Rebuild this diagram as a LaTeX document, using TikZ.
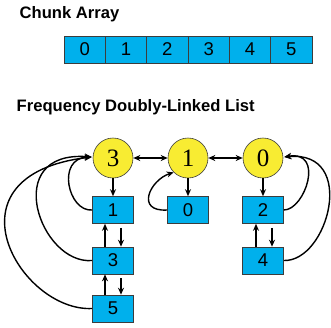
\documentclass[tikz,border=0pt]{standalone}
\usepackage{fontspec}
\setmainfont{Liberation Sans}
\newfontfamily\serifdigits{Liberation Serif}
\usetikzlibrary{arrows.meta}
\definecolor{circfill}{RGB}{248,236,50}
\definecolor{boxfill}{RGB}{0,176,236}
\definecolor{edgegray}{RGB}{60,60,60}
\tikzset{
  cell/.style={draw=edgegray,line width=0.6pt,fill=boxfill,minimum width=41.33pt,minimum height=27pt,inner sep=0pt,font=\fontsize{18.5}{18.5}\selectfont},
  listbox/.style={draw=edgegray,line width=0.6pt,fill=boxfill,minimum width=41pt,minimum height=27pt,inner sep=0pt,font=\fontsize{18.5}{18.5}\selectfont},
  freq/.style={circle,draw=edgegray,line width=0.6pt,fill=circfill,minimum size=40pt,inner sep=0pt,font=\serifdigits\fontsize{25}{25}\selectfont},
  title/.style={anchor=base west,inner sep=0pt,font=\bfseries\fontsize{16.6}{16.6}\selectfont},
  link/.style={line width=1.4pt,-{Stealth[length=7pt,width=6pt]}},
  dlink/.style={line width=1.4pt,{Stealth[length=7pt,width=6pt]}-{Stealth[length=7pt,width=6pt]}}
}
\begin{document}
\begin{tikzpicture}[x=1pt,y=-1pt]
\useasboundingbox (0,0) rectangle (331,327);
\node[title] (t1) at (19.5,18.3) {Chunk Array};
\node[title] (t2) at (16.5,111.5) {Frequency Doubly-Linked List};
\foreach \i in {0,...,5}{
  \node[cell] (a\i) at ({64+41.33*(\i+0.5)},49.5) {\i};
}
\node[freq] (c3) at (113,158) {3};
\node[freq] (c1) at (188,158) {1};
\node[freq] (c0) at (263,158) {0};
\node[listbox] (b1) at (113,210) {1};
\node[listbox] (b3) at (113,260.5) {3};
\node[listbox] (b5) at (113,308.5) {5};
\node[listbox] (b0) at (188,210) {0};
\node[listbox] (b2) at (263,210) {2};
\node[listbox] (b4) at (263,260.5) {4};
% circle links
\draw[dlink] (c3) -- (c1);
\draw[dlink] (c1) -- (c0);
\draw[link] (c3) -- (b1);
\draw[link] (c1) -- (b0);
\draw[link] (c0) -- (b2);
% vertical links between boxes
\draw[link] ([xshift=8pt,yshift=-4pt]b1.south) -- ([xshift=8pt]b3.north);
\draw[link] ([xshift=-8pt]b3.north) -- ([xshift=-8pt]b1.south);
\draw[link] ([xshift=8pt,yshift=-4pt]b3.south) -- ([xshift=8pt]b5.north);
\draw[link] ([xshift=-8pt]b5.north) -- ([xshift=-8pt]b3.south);
\draw[link] ([xshift=9pt,yshift=-4pt]b2.south) -- ([xshift=9pt]b4.north);
\draw[link] ([xshift=-7pt]b4.north) -- ([xshift=-7pt]b2.south);
% back links to frequency nodes
\coordinate (c3w) at ([xshift=-1pt,yshift=1pt]c3.west);
\coordinate (c0e) at ([xshift=1pt,yshift=1pt]c0.east);
\draw[link] (b1.west) .. controls (68,212) and (56,158) .. (c3w);
\draw[link] (b3.west) .. controls (40,265) and (0,150) .. (c3w);
\draw[link] (b5.west) .. controls (20,312) and (-60,175) .. (c3w);
\draw[link] (b0.west) .. controls (135,212) and (150,180) .. (c1.225);
\draw[link] (b2.east) .. controls (305,210) and (325,150) .. (c0e);
\draw[link] (b4.east) .. controls (328,262) and (358,150) .. (c0e);
\end{tikzpicture}
\end{document}
